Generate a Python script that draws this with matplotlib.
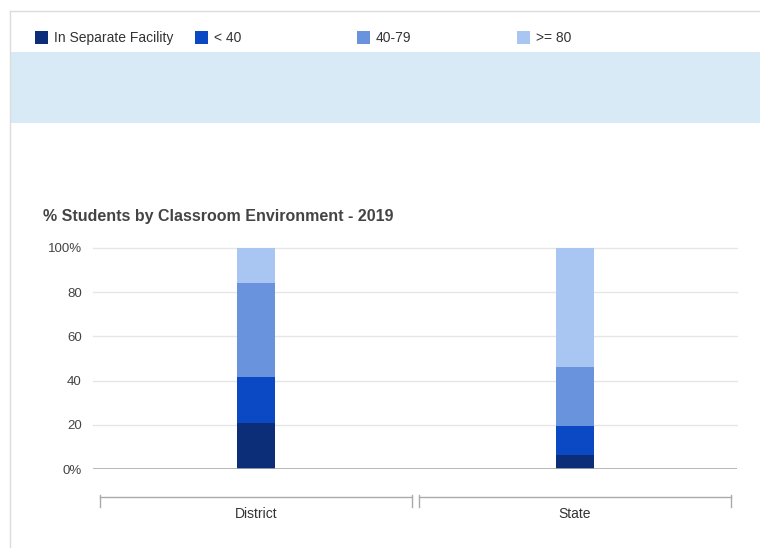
import matplotlib
matplotlib.use("Agg")
from matplotlib import pyplot as plt
from matplotlib.patches import Rectangle
from matplotlib.lines import Line2D
import numpy as np

plt.rcParams['font.family'] = ['Liberation Sans', 'DejaVu Sans']

# data
groups = ["District", "State"]
series = ["In Separate Facility", "< 40", "40-79", ">= 80"]
colors = ["#0c2d78", "#0b48c4", "#6993dc", "#a9c5f2"]
values = {
    "In Separate Facility": [20.8, 6.3],
    "< 40": [20.7, 13.3],
    "40-79": [42.8, 26.4],
    ">= 80": [15.7, 54.0],
}
yticks = [0, 20, 40, 60, 80, 100]
ylabels = ["0%", "20", "40", "60", "80", "100%"]
title = "% Students by Classroom Environment - 2019"

W, H = 760, 548
fig = plt.figure(figsize=(W / 100, H / 100), dpi=100)

def fx(px): return px / W
def fy(py): return 1 - py / H

# panel frame + blue band
fig.add_artist(Line2D([fx(10), 1], [fy(11), fy(11)], color="#dcdcdc", lw=1))
fig.add_artist(Line2D([fx(10), fx(10)], [fy(11), 0], color="#dcdcdc", lw=1))
fig.add_artist(Rectangle((fx(10.5), fy(123)), 1 - fx(10.5), fy(52) - fy(123),
                         facecolor="#d8eaf5", edgecolor="none"))

# legend row
leg_x = [35, 195, 357, 517]
for name, c, x in zip(series, colors, leg_x):
    fig.add_artist(Rectangle((fx(x), fy(44)), fx(13), fy(31) - fy(44),
                             facecolor=c, edgecolor="none"))
    fig.text(fx(x + 19), fy(38), name, fontsize=10, color="#333333", va="center")

fig.text(fx(43), fy(216), title, fontsize=11.5, fontweight="bold", color="#444444",
         va="center")

ax = fig.add_axes([fx(93), 79 / H, (737 - 93) / W, 221 / H])
xs = np.arange(len(groups))
bottom = np.zeros(len(groups))
for name, c in zip(series, colors):
    v = np.array(values[name])
    ax.bar(xs, v, width=0.119, bottom=bottom, color=c, zorder=3)
    bottom += v

ax.set_xlim(-0.512, 1.510)
ax.set_ylim(0, 100)
ax.set_yticks(yticks)
ax.set_yticklabels(ylabels, fontsize=9.5, color="#444444")
ax.tick_params(axis="y", length=0, pad=8)
ax.set_xticks([])
for y in yticks[1:]:
    ax.axhline(y, color="#e6e6e6", lw=1, zorder=1, clip_on=False)
ax.axhline(0, color="#aaaaaa", lw=1.2, zorder=4)
for s in ax.spines.values():
    s.set_visible(False)

# group brackets under the axis
tr = ax.get_xaxis_transform()
yb = (469 - 497) / 221
for i, g in enumerate(groups):
    x0, x1 = i - 0.49, i + 0.49
    ax.plot([x0, x1], [yb, yb], color="#aaaaaa", lw=1, transform=tr, clip_on=False)
    for xe in (x0, x1):
        ax.plot([xe, xe], [yb + 0.01, yb - 0.045], color="#aaaaaa", lw=1,
                transform=tr, clip_on=False)
    ax.text(i, (469 - 514) / 221, g, transform=tr, ha="center", va="center",
            fontsize=10, color="#333333")

fig.savefig("out.png", dpi=100)
